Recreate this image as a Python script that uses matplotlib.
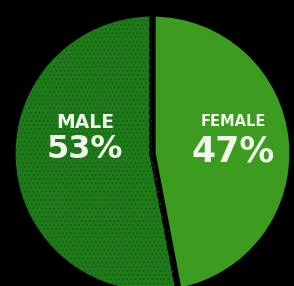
import matplotlib.pyplot as plt
from matplotlib.patches import Wedge

labels = ["MALE", "FEMALE"]
shares = [53, 47]
colors = ["#1f7a19", "#3b9c20"]

fig = plt.figure(figsize=(2.94, 2.86), dpi=100, facecolor="black")
ax = fig.add_axes([0, 0, 1, 1])
ax.set_facecolor("black")

# pie in pixel coordinates, y up
cx, cy, r = 152.5, 132.5, 140
wedges, _ = ax.pie(shares, colors=colors, startangle=90, counterclock=True,
                   center=(cx, cy), radius=r,
                   wedgeprops=dict(edgecolor="black", linewidth=4.5))

# dotted texture on the male slice
plt.rcParams["hatch.linewidth"] = 0.6
m = wedges[0]
ax.add_patch(Wedge((cx, cy), r - 2.5, m.theta1 + 1, m.theta2 - 1,
                   facecolor="none", edgecolor="#175e13", linewidth=0,
                   hatch="...."))

ax.set_xlim(0, 294)
ax.set_ylim(0, 286)
ax.set_aspect("auto")
ax.axis("off")

txt = dict(color="#f2f7ee", fontweight="heavy", family="DejaVu Sans",
           ha="center", va="center")
ax.text(85, 286 - 123, labels[0], fontsize=13.5, **txt)
ax.text(85, 286 - 150, f"{shares[0]}%", fontsize=23, **txt)
ax.text(233, 286 - 122, labels[1], fontsize=10.5, **txt)
ax.text(233, 286 - 151, f"{shares[1]}%", fontsize=25, **txt)

fig.savefig("out.png", dpi=100, facecolor="black")
